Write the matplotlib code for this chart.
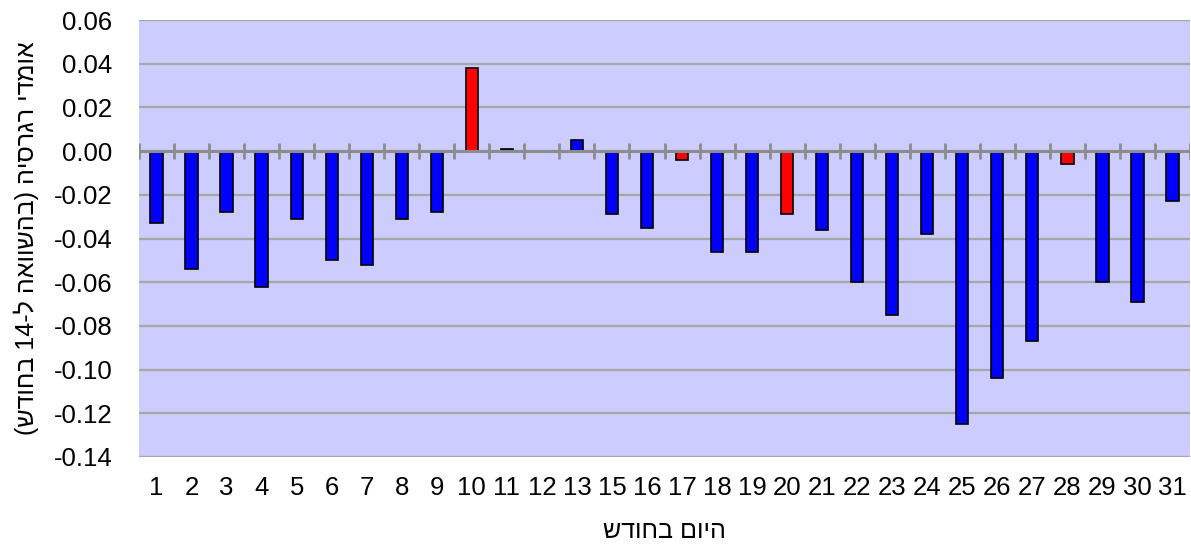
import numpy as np
import matplotlib
matplotlib.use('Agg')
import matplotlib.pyplot as plt

plt.rcParams['font.family'] = ['Liberation Sans', 'DejaVu Sans']

# Data (day 14 is the reference day, so it is left out)
days = ['1', '2', '3', '4', '5', '6', '7', '8', '9', '10', '11', '12', '13',
        '15', '16', '17', '18', '19', '20', '21', '22', '23', '24', '25', '26',
        '27', '28', '29', '30', '31']
coef = [-0.033, -0.054, -0.028, -0.062, -0.031, -0.050, -0.052, -0.031, -0.028,
        0.038, 0.001, 0.0, 0.005, -0.029, -0.035, -0.004, -0.046, -0.046,
        -0.029, -0.036, -0.060, -0.075, -0.038, -0.125, -0.104, -0.087,
        -0.006, -0.060, -0.069, -0.023]
red_days = ['10', '17', '20', '28']

# visual order for Hebrew (no bidi in matplotlib)
xlabel = 'שדוחב םויה'
ylabel = '(שדוחב 14-ל האוושהב) היסרגר ידמוא'

colors = ['#FF0000' if d in red_days else '#0000FF' for d in days]
x = np.arange(len(days))

fig = plt.figure(figsize=(11.91, 5.52), dpi=100)
ax = fig.add_axes([139 / 1191, 1 - 457 / 552, 1051 / 1191, 437 / 552])
ax.set_facecolor('#CCCCFF')

ax.bar(x, coef, width=0.35, color=colors, edgecolor='black', linewidth=1.2, zorder=3)

# gridlines
ax.set_ylim(-0.14, 0.06)
ax.set_xlim(-0.5, len(days) - 0.5)
ax.set_yticks(np.arange(-0.14, 0.061, 0.02))
ax.yaxis.set_major_formatter(matplotlib.ticker.FormatStrFormatter('%.2f'))
ax.grid(axis='y', color='#A6A6A6', linewidth=1.6, zorder=1)

# zero axis with category boundary ticks, drawn over the bar ends
ax.axhline(0, color='#8C8C8C', linewidth=2.2, zorder=4)
bounds = np.arange(len(days) + 1) - 0.5
ax.vlines(bounds, -0.0037, 0.0037, color='#8C8C8C', linewidth=2, zorder=4)

ax.set_xticks(x)
ax.set_xticklabels(days)
ax.tick_params(axis='both', length=0, labelsize=18.5)
ax.tick_params(axis='y', pad=19)
ax.tick_params(axis='x', pad=14)

for s in ax.spines.values():
    s.set_visible(False)

ax.set_xlabel(xlabel, fontsize=18, labelpad=13)
ax.set_ylabel(ylabel, fontsize=18, labelpad=11)

fig.savefig('out.png', dpi=100)
